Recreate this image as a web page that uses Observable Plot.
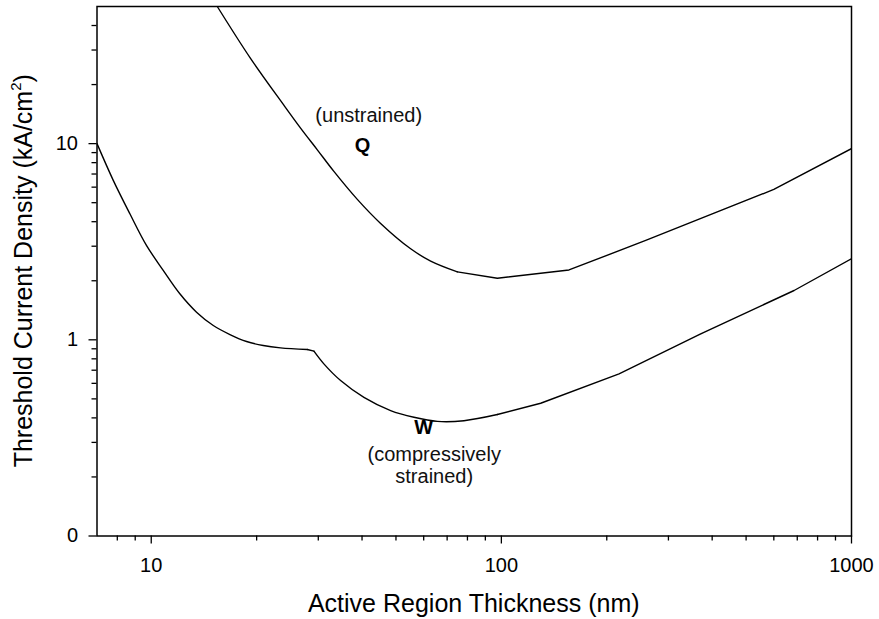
<!DOCTYPE html>
<html>
<head>
<meta charset="utf-8">
<script src="https://cdn.jsdelivr.net/npm/d3@7"></script>
<script src="https://cdn.jsdelivr.net/npm/@observablehq/plot@0.6"></script>
<style>
  html, body { margin: 0; padding: 0; background: #fff; }
  #chart svg { display: block; }
</style>
</head>
<body>
<div id="chart"></div>
<script>
// Threshold current density versus active region thickness for two laser structures.

// Q: unstrained active region
const qThickness = [15.44, 19.21, 23.92, 26.70, 29.81, 33.24, 38.78, 45.2, 55.07, 62.81, 74.89, 97.4, 156, 258.4, 600, 1000];
const qDensity   = [50, 27.2, 15.7, 12.0, 9.30, 7.22, 5.20, 3.92, 2.91, 2.52, 2.22, 2.06, 2.27, 3.21, 5.84, 9.43];

// W: compressively strained active region
const wThickness = [7.0, 7.79, 8.69, 9.69, 10.82, 12.07, 13.47, 15.04, 16.78, 18.72, 20.89, 23.41, 27.91, 29.15, 31.12, 34.74, 40.50, 48.27, 56.28, 65.64, 78.2, 97.4, 129.5, 216.8, 371, 685.5, 1000];
const wDensity   = [10, 6.50, 4.39, 3.03, 2.26, 1.716, 1.383, 1.183, 1.064, 0.980, 0.935, 0.910, 0.893, 0.875, 0.754, 0.620, 0.509, 0.436, 0.403, 0.384, 0.387, 0.416, 0.475, 0.671, 1.073, 1.784, 2.59];

// Axis ticks
const xMajorTicks = [10, 100, 1000];
const xMinorTicks = [8, 9, 20, 30, 40, 50, 60, 70, 80, 90, 200, 300, 400, 500, 600, 700, 800, 900];
const yMajorTicks = [0.1, 1, 10];
const yMajorLabels = ["0", "1", "10"];
const yMinorTicks = [0.2, 0.3, 0.4, 0.5, 0.6, 0.7, 0.8, 0.9, 2, 3, 4, 5, 6, 7, 8, 9, 20, 30, 40];

// Curve annotations
const noteText = ["(unstrained)", "Q", "W", "(compressively", "strained)"];
const noteX    = [41.8, 40.1, 60.0, 64.3, 64.3];
const noteY    = [13.9, 9.8, 0.357, 0.260, 0.2007];
const noteBold = [false, true, true, false, false];

const qCurve = qThickness.map((x, i) => ({x, y: qDensity[i]}));
const wCurve = wThickness.map((x, i) => ({x, y: wDensity[i]}));
const notes = noteText.map((text, i) => ({text, x: noteX[i], y: noteY[i], bold: noteBold[i]}));

// Smooth stretches are drawn as splines, the rest as straight joins (index ranges, inclusive)
const qPieces = [[0, 10, "catmull-rom"], [10, 15, "linear"]];
const wPieces = [[0, 12, "catmull-rom"], [12, 13, "linear"], [13, 21, "catmull-rom"], [21, 26, "linear"]];

const pieceMarks = (data, pieces) => pieces.map(([a, b, curve]) =>
  Plot.line(data.slice(a, b + 1), {x: "x", y: "y", curve, stroke: "#000", strokeWidth: 1.4, clip: true})
);

const font = "'Liberation Sans', Arial, Helvetica, sans-serif";
const W = 879, H = 619;
const mL = 96.5, mR = 28, mT = 6, mB = 83.5;

const chart = Plot.plot({
  width: W,
  height: H,
  marginLeft: mL,
  marginRight: mR,
  marginTop: mT,
  marginBottom: mB,
  style: {fontFamily: font, background: "#fff", color: "#000", overflow: "visible"},
  x: {type: "log", domain: [7, 1000]},
  y: {type: "log", domain: [0.1, 50]},
  marks: [
    Plot.axisX(xMajorTicks, {tickSize: 8, tickPadding: 14, fontSize: 20, tickFormat: d => String(d), label: null, strokeWidth: 1.3}),
    Plot.axisX(xMinorTicks, {tickSize: 5, tickFormat: () => "", label: null, strokeWidth: 1.3}),
    Plot.axisY(yMajorTicks, {tickSize: 8, tickPadding: 11, fontSize: 20, tickFormat: d => yMajorLabels[yMajorTicks.indexOf(d)], label: null, strokeWidth: 1.3}),
    Plot.axisY(yMinorTicks, {tickSize: 5, tickFormat: () => "", label: null, strokeWidth: 1.3}),
    ...pieceMarks(qCurve, qPieces),
    ...pieceMarks(wCurve, wPieces),
    Plot.text(notes.filter(d => !d.bold), {x: "x", y: "y", text: "text", fontSize: 20, fill: "#111"}),
    Plot.text(notes.filter(d => d.bold), {x: "x", y: "y", text: "text", fontSize: 20, fontWeight: "bold", fill: "#000"}),
    Plot.frame({stroke: "#000", strokeWidth: 1.5})
  ]
});

document.getElementById("chart").appendChild(chart);

// Axis titles
const svg = d3.select(chart);
const cx = (mL + (W - mR)) / 2;
const cy = (mT + (H - mB)) / 2;

svg.append("text")
  .attr("x", cx)
  .attr("y", 611.5)
  .attr("text-anchor", "middle")
  .attr("font-family", font)
  .attr("font-size", 25)
  .attr("fill", "#000")
  .text("Active Region Thickness (nm)");

const yTitle = svg.append("text")
  .attr("transform", `translate(31.5,${cy}) rotate(-90)`)
  .attr("text-anchor", "middle")
  .attr("font-family", font)
  .attr("font-size", 25)
  .attr("fill", "#000");
yTitle.append("tspan").text("Threshold Current Density (kA/cm");
yTitle.append("tspan").attr("font-size", 15).attr("dy", -11).text("2");
yTitle.append("tspan").attr("dy", 11).text(")");
</script>
</body>
</html>
